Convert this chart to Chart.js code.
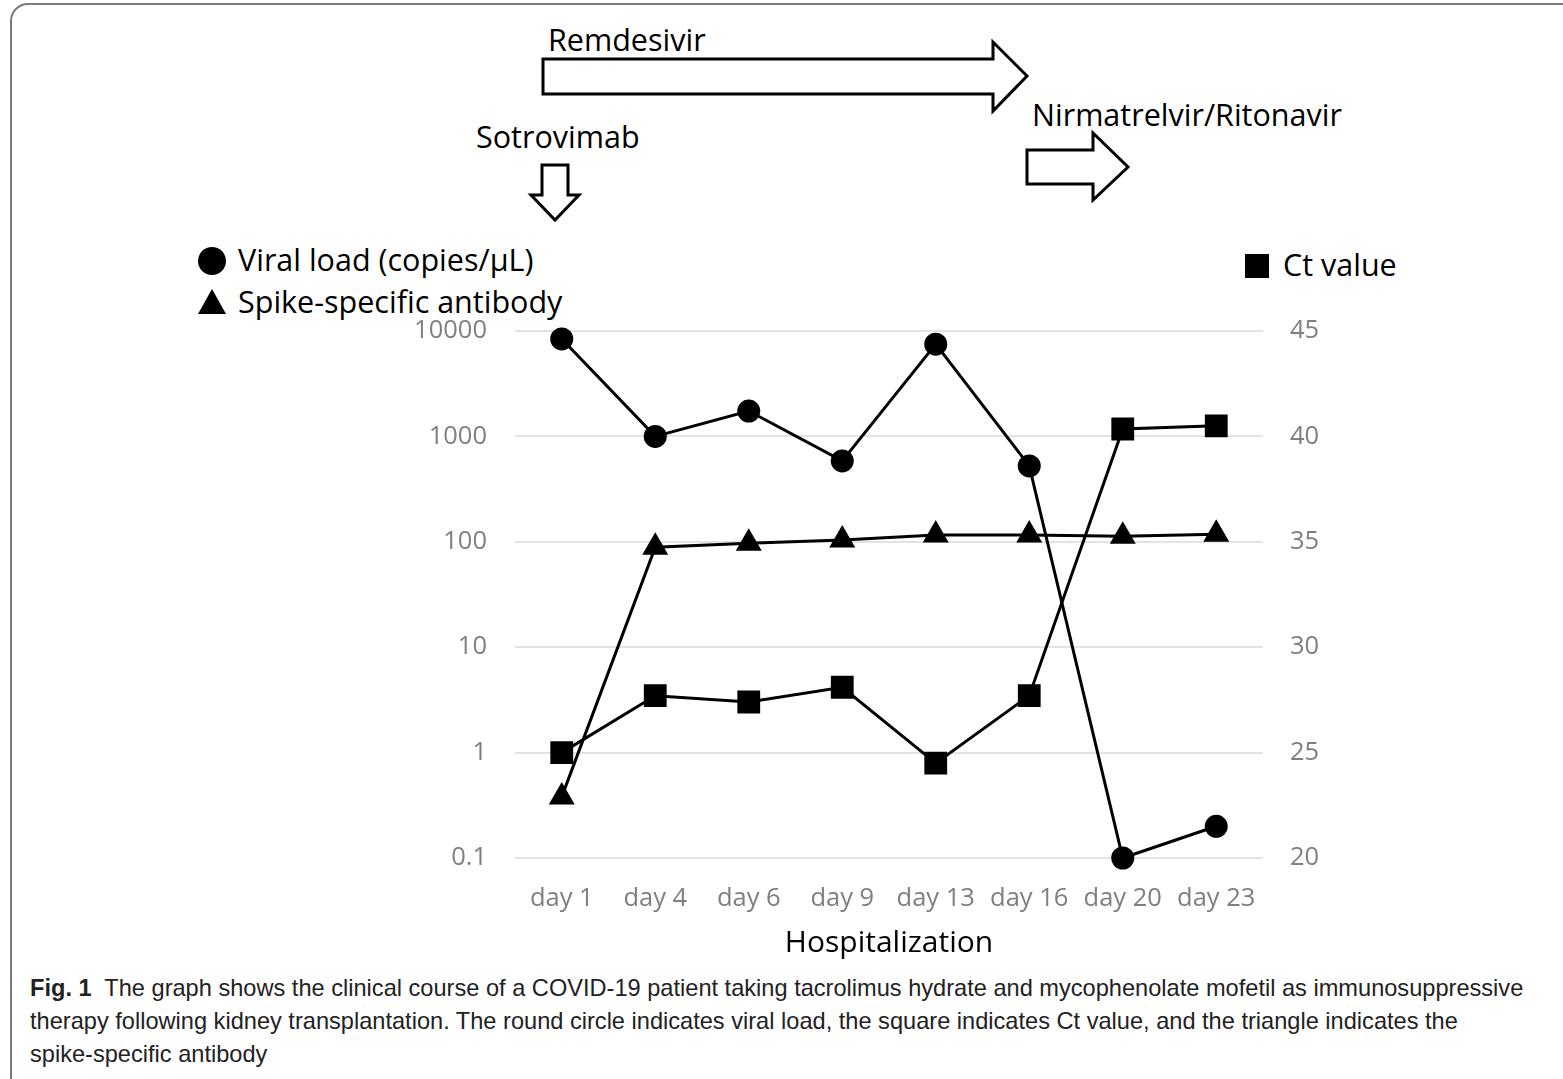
<!DOCTYPE html>
<html>
<head>
<meta charset="utf-8">
<script src="https://cdn.jsdelivr.net/npm/chart.js@4.4.1/dist/chart.umd.min.js"></script>
<style>
  html, body { margin: 0; padding: 0; background: #fff; }
  body { width: 1563px; height: 1079px; position: relative; overflow: hidden; font-family: "Open Sans", sans-serif; }
  #frame { position: absolute; left: 10px; top: 3px; width: 1700px; height: 1300px; border: 2px solid #7b7b7b; border-radius: 18px; box-sizing: border-box; }
  #wrap { position: absolute; left: 0; top: 0; width: 1563px; height: 970px; }
  .lbl { position: absolute; font-size: 30.5px; color: #000; white-space: nowrap; line-height: 1; }
  #caption { position: absolute; left: 30px; top: 972px; width: 1540px; white-space: nowrap; font-family: "Liberation Sans Narrow", "Arial Narrow", sans-serif; font-size: 23.6px; line-height: 33px; color: #222; }
  svg { position: absolute; left: 0; top: 0; }
</style>
</head>
<body>
<div id="frame"></div>

<svg width="1563" height="330">
  <!-- Remdesivir -->
  <polygon points="543,59 993,59 993,42 1027,76 993,111 993,94 543,94" fill="#fff" stroke="#000" stroke-width="3"/>
  <!-- Nirmatrelvir/Ritonavir -->
  <polygon points="1027,150 1093,150 1093,133 1128,167 1093,200 1093,184 1027,184" fill="#fff" stroke="#000" stroke-width="3"/>
  <!-- Sotrovimab -->
  <polygon points="542,165 568,165 568,195 579,195 555,220 531,195 542,195" fill="#fff" stroke="#000" stroke-width="3"/>
  <!-- legend markers -->
  <circle cx="212" cy="261" r="14" fill="#000"/>
  <polygon points="212,289 226,314 198,314" fill="#000"/>
  <rect x="1245" y="254" width="24" height="24" fill="#000"/>
</svg>

<div class="lbl" style="left:548px; top:24px;">Remdesivir</div>
<div class="lbl" style="left:1032px; top:99px;">Nirmatrelvir/Ritonavir</div>
<div class="lbl" style="left:476px; top:121px;">Sotrovimab</div>
<div class="lbl" style="left:238px; top:244px;">Viral load (copies/µL)</div>
<div class="lbl" style="left:238px; top:286px;">Spike-specific antibody</div>
<div class="lbl" style="left:1283px; top:249px;">Ct value</div>

<div id="wrap"><canvas id="chart"></canvas></div>

<div id="caption"><b>Fig. 1</b>&nbsp; The graph shows the clinical course of a COVID-19 patient taking tacrolimus hydrate and mycophenolate mofetil as immunosuppressive<br>therapy following kidney transplantation. The round circle indicates viral load, the square indicates Ct value, and the triangle indicates the<br>spike-specific antibody</div>

<script>
const days = ["day 1", "day 4", "day 6", "day 9", "day 13", "day 16", "day 20", "day 23"];
const viralLoad = [8400, 1000, 1740, 585, 7500, 525, 0.1, 0.2];
const antibody = [0.38, 89, 97, 104, 116, 116, 113, 118];
const ctValue = [25, 27.7, 27.4, 28.1, 24.5, 27.7, 40.35, 40.5];
const logTicks = [0.1, 1, 10, 100, 1000, 10000];

const tickFont = { family: "Open Sans", size: 25.5 };
const grey = "#7f7f7f";

new Chart(document.getElementById("chart"), {
  type: "line",
  data: {
    labels: days,
    datasets: [
      {
        label: "Viral load (copies/µL)",
        data: viralLoad,
        yAxisID: "y",
        borderColor: "#000",
        backgroundColor: "#000",
        borderWidth: 3,
        pointStyle: "circle",
        pointRadius: 10,
        tension: 0,
        clip: false,
      },
      {
        label: "Spike-specific antibody",
        data: antibody,
        yAxisID: "y",
        borderColor: "#000",
        backgroundColor: "#000",
        borderWidth: 3,
        pointStyle: "triangle",
        pointRadius: 12,
        tension: 0,
        clip: false,
      },
      {
        label: "Ct value",
        data: ctValue,
        yAxisID: "y1",
        borderColor: "#000",
        backgroundColor: "#000",
        borderWidth: 3,
        pointStyle: "rect",
        pointRadius: 14,
        tension: 0,
        clip: false,
      },
    ],
  },
  options: {
    responsive: true,
    maintainAspectRatio: false,
    animation: false,
    layout: { padding: { top: 331, bottom: 6, left: 0, right: 0 } },
    plugins: { legend: { display: false }, tooltip: { enabled: false } },
    scales: {
      x: {
        offset: true,
        grid: { display: false },
        border: { display: false },
        ticks: { color: grey, font: tickFont, padding: 17, maxRotation: 0 },
        title: { display: true, text: "Hospitalization", color: "#000", font: { family: "Open Sans", size: 30 }, padding: { top: 0, bottom: 3 } },
        afterFit: (s) => { s.height = 106; },
      },
      y: {
        type: "logarithmic",
        position: "left",
        min: 0.1,
        max: 10000,
        grid: { color: "#e3e3e3", lineWidth: 2, drawTicks: false },
        border: { display: false },
        ticks: { color: grey, font: tickFont, padding: 28, callback: (v) => String(v) },
        afterBuildTicks: (s) => { s.ticks = logTicks.map((v) => ({ value: v })); },
        afterFit: (s) => { s.width = 515; },
      },
      y1: {
        position: "right",
        min: 20,
        max: 45,
        grid: { display: false, drawTicks: false },
        border: { display: false },
        ticks: { stepSize: 5, color: grey, font: tickFont, padding: 27 },
        afterFit: (s) => { s.width = 300; },
      },
    },
  },
});
</script>
</body>
</html>
